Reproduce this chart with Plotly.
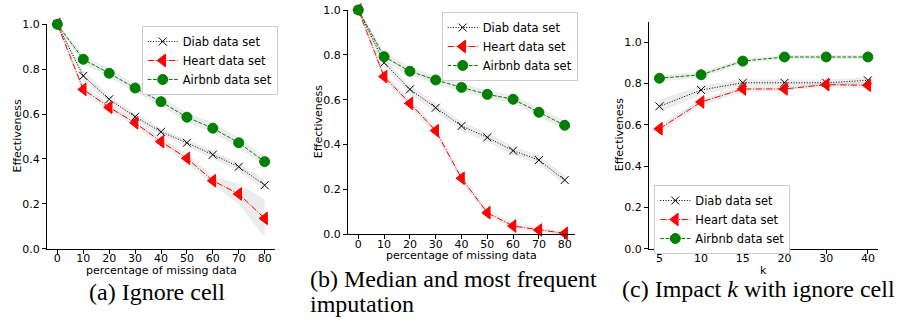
import plotly.graph_objects as go

W, H = 898, 322

# ---------------- data ----------------
missing_pct = [0, 10, 20, 30, 40, 50, 60, 70, 80]
k_values = ["5", "10", "15", "20", "30", "40"]

# (a) Ignore cell
a_diab = [1.0, 0.770, 0.666, 0.588, 0.521, 0.472, 0.419, 0.365, 0.283]
a_heart = [1.0, 0.710, 0.630, 0.561, 0.477, 0.403, 0.303, 0.244, 0.135]
a_airbnb = [1.0, 0.844, 0.782, 0.716, 0.655, 0.586, 0.537, 0.472, 0.388]
a_diab_sd = [0.005, 0.025, 0.018, 0.015, 0.015, 0.015, 0.018, 0.018, 0.022]
a_heart_sd = [0.005, 0.018, 0.015, 0.015, 0.018, 0.02, 0.02, 0.045, 0.085]
a_airbnb_sd = [0.005, 0.02, 0.018, 0.018, 0.018, 0.022, 0.022, 0.022, 0.022]

# (b) Median and most frequent imputation
b_diab = [1.0, 0.765, 0.646, 0.564, 0.483, 0.432, 0.373, 0.331, 0.242]
b_heart = [1.0, 0.703, 0.584, 0.462, 0.250, 0.096, 0.037, 0.019, 0.004]
b_airbnb = [1.0, 0.792, 0.727, 0.688, 0.655, 0.624, 0.602, 0.544, 0.486]
b_diab_sd = [0.005, 0.02, 0.02, 0.02, 0.02, 0.02, 0.02, 0.02, 0.02]
b_heart_sd = [0.005, 0.018, 0.018, 0.018, 0.018, 0.015, 0.012, 0.01, 0.008]
b_airbnb_sd = [0.005, 0.02, 0.02, 0.018, 0.018, 0.018, 0.018, 0.02, 0.02]

# (c) Impact k with ignore cell
c_diab = [0.690, 0.769, 0.804, 0.804, 0.804, 0.816]
c_heart = [0.581, 0.711, 0.774, 0.774, 0.795, 0.792]
c_airbnb = [0.826, 0.843, 0.909, 0.929, 0.929, 0.929]
c_diab_sd = [0.03, 0.022, 0.015, 0.015, 0.015, 0.015]
c_heart_sd = [0.02, 0.015, 0.015, 0.01, 0.01, 0.015]
c_airbnb_sd = [0.015, 0.015, 0.01, 0.01, 0.01, 0.01]

series_names = ["Diab data set", "Heart data set", "Airbnb data set"]
y_ticks = [0.0, 0.2, 0.4, 0.6, 0.8, 1.0]
captions = ["(a) Ignore cell", "(b) Median and most frequent", "imputation",
            "(c) Impact <i>k</i> with ignore cell"]

# ---------------- styles ----------------
STYLES = [
    dict(color="black", dash="1px,1.65px", symbol="x-thin", size=8),
    dict(color="red", dash="6.4px,1.6px,1px,1.6px", symbol="triangle-left", size=11),
    dict(color="green", dash="3.7px,1.6px", symbol="circle", size=10),
]
BAND = "rgba(150,150,150,0.18)"
SANS = "DejaVu Sans"
SERIF = "Liberation Serif"

fig = go.Figure()

panels = [
    dict(x=missing_pct, ys=[a_diab, a_heart, a_airbnb], sds=[a_diab_sd, a_heart_sd, a_airbnb_sd],
         xa="x", ya="y", legend="legend"),
    dict(x=missing_pct, ys=[b_diab, b_heart, b_airbnb], sds=[b_diab_sd, b_heart_sd, b_airbnb_sd],
         xa="x2", ya="y2", legend="legend2"),
    dict(x=k_values, ys=[c_diab, c_heart, c_airbnb], sds=[c_diab_sd, c_heart_sd, c_airbnb_sd],
         xa="x3", ya="y3", legend="legend3"),
]

for p in panels:
    # shaded bands first
    for ys, sd in zip(p["ys"], p["sds"]):
        upper = [v + s for v, s in zip(ys, sd)]
        lower = [v - s for v, s in zip(ys, sd)]
        fig.add_trace(go.Scatter(x=p["x"], y=upper, mode="lines", line=dict(width=0),
                                 hoverinfo="skip", showlegend=False,
                                 xaxis=p["xa"], yaxis=p["ya"]))
        fig.add_trace(go.Scatter(x=p["x"], y=lower, mode="lines", line=dict(width=0),
                                 fill="tonexty", fillcolor=BAND, hoverinfo="skip",
                                 showlegend=False, xaxis=p["xa"], yaxis=p["ya"]))
    for name, ys, st in zip(series_names, p["ys"], STYLES):
        fig.add_trace(go.Scatter(
            x=p["x"], y=ys, name=name, mode="lines+markers",
            line=dict(color=st["color"], width=1, dash=st["dash"]),
            marker=dict(symbol=st["symbol"], size=st["size"], color=st["color"],
                        line=dict(color=st["color"], width=1)),
            cliponaxis=False, legend=p["legend"], xaxis=p["xa"], yaxis=p["ya"]))


def px_x(v):
    return v / W


def px_y(v):
    return 1 - v / H


# plot boxes in pixels: (left, right, top, bottom)
boxes = [(47, 275, 24.3, 248.7), (348, 575, 10.0, 234.3), (649, 878.3, 21.7, 248.7)]

axis_common = dict(showline=True, linecolor="black", linewidth=1, ticks="outside",
                   ticklen=4, tickwidth=1, tickcolor="black", showgrid=False, zeroline=False,
                   automargin=False,
                   tickfont=dict(family=SANS, size=11, color="black"), mirror=False)

layout = dict(template="none", width=W, height=H, autosize=False,
              margin=dict(l=0, r=0, t=0, b=0, pad=0, autoexpand=False),
              paper_bgcolor="white", plot_bgcolor="white", showlegend=True,
              font=dict(family=SANS, size=11, color="black"))

for i, (l, r, t, b) in enumerate(boxes):
    sfx = "" if i == 0 else str(i + 1)
    xa = dict(axis_common, domain=[px_x(l), px_x(r)], anchor="y" + sfx, ticklabelstandoff=-5)
    ya = dict(axis_common, domain=[px_y(b), px_y(t)], anchor="x" + sfx,
              tickvals=y_ticks, tickformat=".1f")
    if i < 2:
        xa.update(range=[-4, 84], tickvals=missing_pct)
        ya.update(range=[0, 1.0])
    else:
        xa.update(type="category", range=[-0.25, 5.25])
        ya.update(range=[0, 1.1])
    layout["xaxis" + sfx] = xa
    layout["yaxis" + sfx] = ya

legend_common = dict(xanchor="left", yanchor="top", bgcolor="white", bordercolor="#cccccc",
                     borderwidth=1, font=dict(family=SANS, size=11.5, color="black"),
                     tracegroupgap=0, itemwidth=30, traceorder="normal")
layout["legend"] = dict(legend_common, x=px_x(141.7), y=px_y(26))
layout["legend2"] = dict(legend_common, x=px_x(441.7), y=px_y(12))
layout["legend3"] = dict(legend_common, x=px_x(654.3), y=px_y(185))

ann = []
# y axis titles
for xp, (l, r, t, b) in zip([17, 318, 619], boxes):
    ann.append(dict(text="Effectiveness", x=px_x(xp), y=px_y((t + b) / 2), xref="paper",
                    yref="paper", textangle=-90, showarrow=False, xanchor="center",
                    yanchor="middle", font=dict(family=SANS, size=11, color="black")))
# x axis titles
for txt, (l, r, t, b) in zip(["percentage of missing data", "percentage of missing data", "k"], boxes):
    ann.append(dict(text=txt, x=px_x((l + r) / 2), y=px_y(b + 21.3), xref="paper", yref="paper",
                    showarrow=False, xanchor="center", yanchor="middle",
                    font=dict(family=SANS, size=11, color="black")))
# captions
cap_font = dict(family=SERIF, size=24, color="black")
ann.append(dict(text=captions[0], x=px_x(157), y=px_y(292), xref="paper", yref="paper",
                showarrow=False, xanchor="center", yanchor="middle", font=cap_font))
ann.append(dict(text=captions[1], x=px_x(308), y=px_y(279), xref="paper", yref="paper",
                showarrow=False, xanchor="left", yanchor="middle", font=cap_font))
ann.append(dict(text=captions[2], x=px_x(308), y=px_y(304), xref="paper", yref="paper",
                showarrow=False, xanchor="left", yanchor="middle", font=cap_font))
ann.append(dict(text=captions[3], x=px_x(758), y=px_y(289), xref="paper", yref="paper",
                showarrow=False, xanchor="center", yanchor="middle", font=cap_font))
layout["annotations"] = ann

fig.update_layout(**layout)
fig.write_html("out.html", config={"displayModeBar": False},
               post_script="document.body.style.margin='0';document.body.style.overflow='hidden';")
